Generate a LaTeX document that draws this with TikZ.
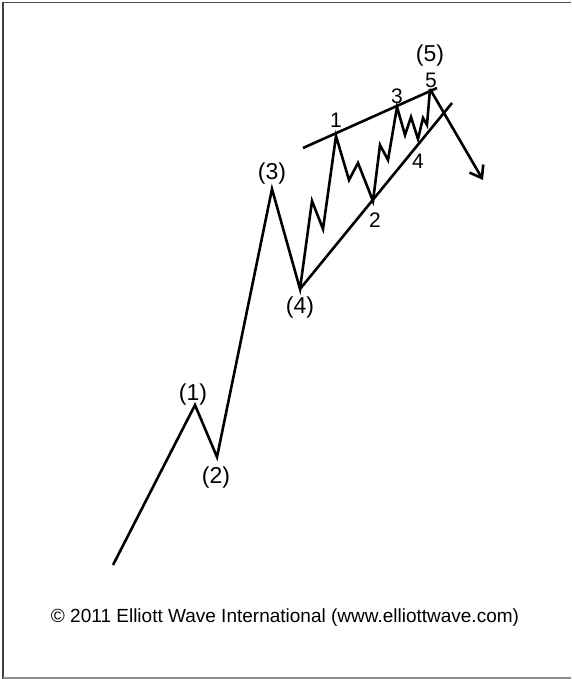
\documentclass[tikz,border=0pt]{standalone}
\usepackage{fontspec}
\setmainfont{Liberation Sans}
\usetikzlibrary{arrows.meta}
\begin{document}
\begin{tikzpicture}[x=1pt,y=-1pt]
\tikzstyle{wave}=[line width=2.6pt,line join=miter]
\tikzstyle{wavelabel}=[inner sep=0pt,font=\fontsize{23}{26}\selectfont]
\tikzstyle{sublabel}=[inner sep=0pt,font=\fontsize{21}{24}\selectfont]
\useasboundingbox (0,0) rectangle (571,679);
% frame
\draw[black!70,line width=1pt] (3,2.5) -- (571,2.5);
\draw[black!75,line width=2pt] (3,2) -- (3,679);
\draw[black!45,line width=1.2pt] (3,678) -- (571,678);
% main wave points
\coordinate (w0) at (113,565);
\coordinate (w1) at (195,405);
\coordinate (w2) at (217,457);
\coordinate (w3) at (272,189);
\coordinate (w4) at (300,289);
% sub waves of the ending diagonal
\coordinate (s1) at (336,136);
\coordinate (s2) at (373,201);
\coordinate (s3) at (397,107);
\coordinate (s4) at (418,139);
\coordinate (s5) at (430,89);
\node[wavelabel] (l1) at (193,395) {(1)};
\node[wavelabel] (l2) at (216,478) {(2)};
\node[wavelabel] (l3) at (272,174) {(3)};
\node[wavelabel] (l4) at (300,308) {(4)};
\node[wavelabel] (l5) at (430,56) {(5)};
\node[sublabel] (m1) at (336,120) {1};
\node[sublabel] (m2) at (375,220) {2};
\node[sublabel] (m3) at (397,96) {3};
\node[sublabel] (m4) at (418,161) {4};
\node[sublabel] (m5) at (431,80) {5};
\draw[wave] (w0) -- (w1) -- (w2) -- (w3) -- (w4) -- (312,201) -- (323,229) -- (s1)
  -- (349,180) -- (358,163) -- (s2) -- (380,145) -- (388,160) -- (s3)
  -- (405,135) -- (411,117) -- (s4) -- (423,118) -- (427,125) -- (s5);
% wedge lines
\coordinate (u0) at (303,148);
\coordinate (u1) at (437,88);
\coordinate (d1) at (452,103);
\draw[wave] (u0) -- (u1);
\draw[wave] (w4) -- (d1);
\coordinate (tip) at (483,180);
\draw[wave,-{Straight Barb[length=11pt,width=16pt]}] (s5) -- (tip);
\node[anchor=base,inner sep=0pt,font=\fontsize{19}{22}\selectfont] (copy) at (285,622.3)
  {\textcopyright{} 2011 Elliott Wave International (www.elliottwave.com)};
\end{tikzpicture}
\end{document}
